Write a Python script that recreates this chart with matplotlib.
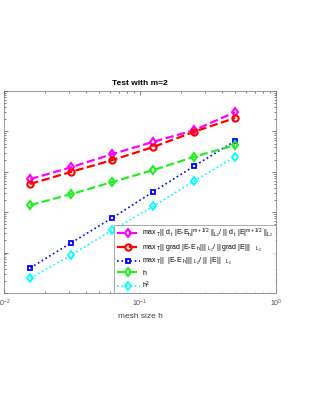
import numpy as np
import matplotlib
matplotlib.use("Agg")
import matplotlib.pyplot as plt

plt.rcParams['font.family'] = ['Liberation Sans', 'DejaVu Sans']
plt.rcParams['mathtext.fontset'] = 'custom'
plt.rcParams['mathtext.rm'] = 'Liberation Sans'
plt.rcParams['mathtext.it'] = 'Liberation Sans'

# Datos
h = [1/64, 1/32, 1/16, 1/8, 1/4, 1/2]
err_dt = [6.6e-4, 1.3e-3, 2.75e-3, 5.5e-3, 1.07e-2, 3.0e-2]
err_grad = [5.0e-4, 1.0e-3, 1.95e-3, 4.1e-3, 9.8e-3, 2.15e-2]
ref_h = [1.5e-4, 2.8e-4, 5.6e-4, 1.1e-3, 2.35e-3, 4.6e-3]
err_l2 = [4.2e-6, 1.75e-5, 7.2e-5, 3.2e-4, 1.38e-3, 5.8e-3]
ref_h2 = [2.35e-6, 8.7e-6, 3.6e-5, 1.4e-4, 5.9e-4, 2.35e-3]

labels = [
    r'max$_{\ T}$|| d$_{\ t}$ |E-E$_{\rm h}$|$^{\rm m+1/2}$ ||$_{\rm L_2}$/ || d$_{\ t}$ |E|$^{\rm m+1/2}$ ||$_{\rm L_2}$',
    r'max$_{\ T}$|| grad |E-E $_{\rm h}$||| $_{\rm L_2}$/ || grad |E|||   $_{\rm L_2}$',
    r'max$_{\ T}$||  |E-E $_{\rm h}$||| $_{\rm L_2}$/ ||  |E||   $_{\rm L_2}$',
    'h',
    r'h$^2$',
]

fig = plt.figure(figsize=(3.27, 3.94), dpi=100)
ax = fig.add_axes([4/327, 101/394, 272/327, 202/394])

ax.loglog(h, err_dt, '--d', color='magenta', lw=1.6, ms=4.5, mfc='none', mew=1.5, label=labels[0])
ax.loglog(h, err_grad, '--o', color='red', lw=1.6, ms=4.5, mfc='none', mew=1.5, label=labels[1])
ax.loglog(h, err_l2, ':s', color='blue', lw=1.2, ms=3.5, mfc='none', mew=1.3, label=labels[2])
ax.loglog(h, ref_h, '--d', color='#22ee22', lw=1.6, ms=4.5, mfc='none', mew=1.5, label=labels[3])
ax.loglog(h, ref_h2, ':d', color='cyan', lw=1.2, ms=4.5, mfc='none', mew=1.3, label=labels[4])

ax.set_xlim(1e-2, 1e0)
ax.set_ylim(1e-6, 1e-1)
ax.tick_params(which='both', direction='in', top=True, right=True,
               labelsize=5, colors='0.3', width=0.5)
ax.tick_params(which='major', length=3)
ax.tick_params(which='minor', length=1.5)
for s in ax.spines.values():
    s.set_linewidth(0.5)
    s.set_color('0.45')

ax.set_title('Test with m=2', fontsize=6, fontweight='bold', pad=4)
ax.set_xlabel('mesh size h', fontsize=6, color='0.25', labelpad=3)

leg = ax.legend(loc='lower right', bbox_to_anchor=(1.0, 0.0), borderaxespad=0,
                fontsize=5, frameon=True, fancybox=False, edgecolor='0.5',
                handlelength=3.4, handletextpad=0.3, labelspacing=0.35,
                borderpad=0.35)
leg.get_frame().set_linewidth(0.6)

fig.savefig('out.png', dpi=100)
